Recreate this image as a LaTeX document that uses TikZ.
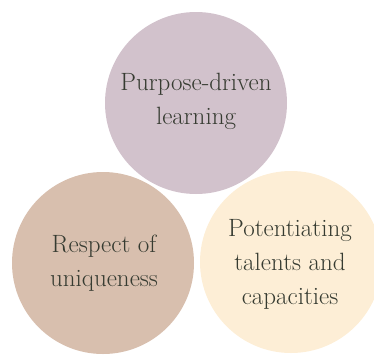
\documentclass[tikz,border=0pt]{standalone}
\definecolor{topc}{HTML}{D2C2CC}
\definecolor{leftc}{HTML}{D8BFAE}
\definecolor{rightc}{HTML}{FDEED6}
\definecolor{txt}{HTML}{363B31}
\tikzset{
  disc/.style={circle, draw=none, minimum size=182pt, inner sep=0pt},
  lbl/.style={align=center, text=txt, font=\fontsize{25}{34}\selectfont, inner sep=0pt}
}
\begin{document}
\begin{tikzpicture}[x=1pt,y=-1pt]
\useasboundingbox (0,0) rectangle (374,356);
\begin{scope}
\clip (0,0) rectangle (374,356);
\node[disc, fill=rightc] (right) at (291,262) {};
\node[disc, fill=leftc] (left) at (103,263) {};
\node[disc, fill=topc] (top) at (196,103) {};
\end{scope}
\node[lbl] (ttop) at (196,101) {Purpose-driven\\learning};
\node[lbl] (tleft) at (104,263) {Respect of\\uniqueness};
\node[lbl] (tright) at (290,264) {Potentiating\\talents and\\capacities};
\end{tikzpicture}
\end{document}
